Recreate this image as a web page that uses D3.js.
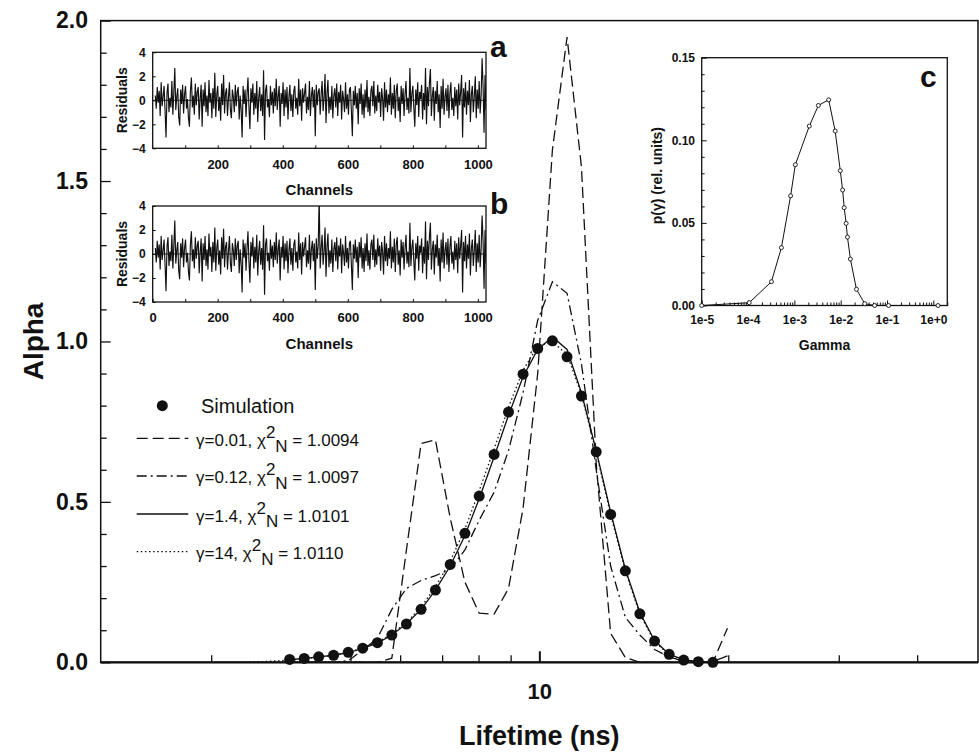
<!DOCTYPE html>
<html>
<head>
<meta charset="utf-8">
<script src="https://cdn.jsdelivr.net/npm/d3@7"></script>
<style>
  html, body { margin: 0; padding: 0; background: #fff; }
  svg { display: block; font-family: "Liberation Sans", Arial, Helvetica, sans-serif; }
</style>
</head>
<body>
<svg id="chart" width="979" height="752"></svg>
<script>
// ---------------- main panel: lifetime distributions ----------------
const lifetimeGrid = [3.06, 3.23, 3.41, 3.59, 3.79, 4.00, 4.22, 4.45, 4.70, 4.96,
  5.23, 5.52, 5.82, 6.14, 6.48, 6.83, 7.21, 7.61, 8.02, 8.47,
  8.93, 9.42, 9.94, 10.49, 11.07, 11.67, 12.32, 12.99, 13.71, 14.46,
  15.26, 16.10, 16.98, 17.92, 18.90, 19.94];

const alphaSimulation = [null, null, null, null, null,
  0.009, 0.012, 0.017, 0.022, 0.031, 0.044, 0.061, 0.085, 0.119, 0.165,
  0.225, 0.305, 0.402, 0.518, 0.648, 0.780, 0.898, 0.978, 1.002, 0.952,
  0.830, 0.656, 0.461, 0.285, 0.151, 0.066, 0.025, 0.007, 0.002, 0.000, null];

const alphaGamma001 = [null, null, null, null, null,
  0, 0, 0, 0, 0, 0, 0, 0.013, 0.35, 0.682,
  0.693, 0.45, 0.25, 0.153, 0.150, 0.230, 0.48, 0.90, 1.596, 1.949,
  1.544, 0.62, 0.09, 0.015, 0, 0, 0, 0, 0, 0, 0.106];

const alphaGamma012 = [null, null, null, null, null,
  0, 0, 0, 0, 0.005, 0.038, 0.075, 0.165, 0.23, 0.255,
  0.27, 0.29, 0.35, 0.443, 0.53, 0.66, 0.84, 1.066, 1.186, 1.15,
  0.93, 0.60, 0.30, 0.14, 0.085, 0.04, 0.017, 0.003, 0, 0, 0];

const alphaGamma14 = [null, null, null, null, null,
  0.008, 0.012, 0.017, 0.022, 0.030, 0.043, 0.060, 0.085, 0.120, 0.165,
  0.225, 0.300, 0.395, 0.510, 0.640, 0.770, 0.890, 0.975, 1.014, 0.975,
  0.840, 0.660, 0.468, 0.290, 0.155, 0.068, 0.025, 0.008, 0.002, 0.002, 0.020];

const alphaGamma140 = [0, 0, 0, 0.002, 0.004,
  0.007, 0.011, 0.016, 0.022, 0.031, 0.045, 0.063, 0.088, 0.124, 0.172,
  0.235, 0.315, 0.415, 0.535, 0.665, 0.795, 0.910, 0.985, 0.998, 0.960,
  0.835, 0.655, 0.460, 0.285, 0.150, 0.065, 0.023, 0.006, 0.000, 0.000, null];

const legendGammas = ["0.01", "0.12", "1.4", "14"];
const legendChi2 = ["1.0094", "1.0097", "1.0101", "1.0110"];

const alphaTicks = [0, 0.5, 1.0, 1.5, 2.0];
const lifetimeTicks = [3, 4, 5, 6, 7, 8, 9, 10, 20, 30, 40];
const lifetimeLabels = [10];

// ---------------- insets a / b: fit residuals (every 3rd channel) ----------------
const residualsA = [
  0.4, -0.7, 1.1, -0.2, 0.8, -1.3, 1.5, -0.5, 0.3, 1.2, -0.9, -3.1, 0.6, 1.4, -1.0, 0.2, -0.6, 1.6, -1.2, 0.7,
  2.7, -0.8, 0.3, 1.0, -1.4, -2.1, 0.9, -0.3, 1.3, -1.1, 0.5, 1.2, -0.7, 0.1, -1.5, -2.2, 0.8, 1.9, -0.6, 0.4,
  -1.2, 1.4, -0.4, 0.7, 1.1, -1.6, 0.2, 1.3, -2.2, 0.9, -0.5, 1.5, -1.0, 0.4, -1.3, 1.7, -0.2, 0.6, -1.5, 1.0,
  -0.7, 2.3, -1.4, 0.5, 1.2, -0.9, 0.3, -1.7, 1.4, -0.4, 2.1, -1.1, 0.6, 1.0, -1.3, 0.2, 1.5, -0.8, -1.5, 0.9,
  0.3, -1.0, 1.3, -0.5, 0.7, 1.1, -1.6, 0.4, -0.8, -3.1, 1.2, -0.3, 0.9, -1.4, 0.5, 1.9, -0.6, -2.4, 1.0, -0.2,
  1.4, -1.2, 0.6, -0.7, 1.6, -1.8, 0.2, 1.1, -0.9, 0.5, -1.3, 2.5, -3.3, 0.8, 1.3, -0.6, 0.1, -1.4, 1.2, -0.4,
  0.7, -1.1, 1.0, -0.5, 1.8, -0.8, 0.4, 1.2, -2.2, 0.6, -0.3, 1.5, -1.3, 0.9, -0.6, 1.1, -1.6, 0.3, 1.3, -0.9,
  0.5, -1.4, 0.8, 1.2, -0.7, 0.2, -1.2, 1.8, -0.5, 0.9, -1.7, 1.0, -0.2, 0.6, 1.4, -1.1, 0.3, -0.8, 1.6, -1.3,
  0.4, 1.1, -0.6, 0.9, -3.0, 1.3, -0.4, 0.7, 1.0, -1.2, 0.5, 1.6, -0.9, 0.2, 2.2, -1.9, 0.6, 1.7, -1.1, 0.3,
  -0.8, 1.2, -1.5, 0.4, 1.0, -0.6, 1.4, -1.3, 0.7, -0.2, 1.3, -1.6, 0.8, 0.1, -1.0, 1.5, -0.7, 0.5, -1.2, 0.9,
  1.1, -0.9, -3.0, 0.8, -0.4, 1.2, -0.7, 0.6, -2.0, 1.0, -0.3, 1.4, -1.2, 0.5, -1.5, 0.9, -0.6, 1.7, -1.0, 0.3,
  -1.3, 0.8, 1.2, -0.5, 1.6, -1.1, 0.4, -0.9, 1.3, -0.2, 0.7, -1.4, 1.0, 0.2, -1.7, 1.5, -0.6, 0.9, -1.0, 0.5,
  -0.4, 1.9, -1.2, 0.6, -0.7, 1.3, -1.5, 0.8, 1.4, -0.9, 0.3, -1.8, 1.2, -0.3, 1.0, -1.3, 0.5, 1.6, -0.8, 0.2,
  -1.1, 2.7, -1.0, 0.5, 1.2, -0.6, -2.2, 0.9, -0.4, 1.5, -1.4, 0.7, 0.1, 1.3, -1.6, 0.6, -0.8, 2.7, -2.0, 1.1,
  -0.5, 1.4, 2.6, -1.3, 0.4, 1.1, -1.7, 0.8, -0.3, 1.6, -1.0, 0.5, -2.3, 1.2, -0.7, 1.8, -1.2, 0.3, 1.0, -0.9,
  1.3, -1.5, 0.6, 1.5, -0.8, 0.2, -1.3, 1.1, -0.5, 0.9, -1.6, 1.4, -0.4, 0.7, 2.1, -3.1, 1.0, -0.6, 1.5, -1.2,
  0.8, -0.4, 1.7, -1.8, 0.5, 1.2, -1.0, 0.3, 2.0, -1.5, 0.9, -0.7, 1.6, -1.1, 0.4, 3.5, 1.2, -2.7, 2.1, -0.8
];

const residualsB = [
  0.5, -0.7, 1.1, -0.3, 0.8, -1.3, 1.5, -0.5, 0.3, 1.2, -0.9, -3.1, 0.6, 1.4, -1.0, 0.2, -0.6, 1.6, -1.2, 0.7,
  2.8, -0.8, 0.3, 1.0, -1.4, -2.1, 0.9, -0.3, 1.3, -1.1, 0.5, 1.2, -0.7, 0.1, -1.5, -2.2, 0.8, 1.9, -0.6, 0.4,
  -1.2, 1.4, -0.4, 0.7, 1.1, -1.6, 0.2, 1.3, -2.3, 0.9, -0.5, 1.5, -1.0, 0.4, -1.3, 1.7, -0.2, 0.6, -1.5, 1.0,
  -0.7, 2.2, -1.4, 0.5, 1.2, -0.9, 0.3, -1.7, 1.4, -0.4, 2.1, -1.1, 0.6, 1.0, -1.3, 0.2, 1.5, -0.8, -1.5, 0.9,
  0.3, -1.0, 1.3, -0.5, 0.7, 1.1, -1.6, 0.4, -0.8, -3.2, 1.2, -0.3, 0.9, -1.4, 0.5, 1.9, -0.6, -2.4, 1.0, -0.2,
  1.4, -1.2, 0.6, -0.7, 1.6, -1.8, 0.2, 1.1, -0.9, 0.5, -1.3, 2.4, -3.4, 0.8, 1.3, -0.6, 0.1, -1.4, 1.2, -0.4,
  0.7, -1.1, 1.0, -0.5, 1.8, -0.8, 0.4, 1.2, -2.2, 0.6, -0.3, 1.5, -1.3, 0.9, -0.6, 1.1, -1.6, 0.3, 1.3, -0.9,
  0.5, -1.4, 0.8, 1.2, -0.7, 0.2, -1.2, 1.8, -0.5, 0.9, -1.7, 1.0, -0.2, 0.6, 1.4, -1.1, 0.3, -0.8, 1.6, -1.3,
  0.4, 1.1, -0.6, 0.9, -3.0, 1.3, -0.4, 0.7, 4.8, -1.2, 0.5, 1.6, -0.9, 0.2, 2.2, -1.9, 0.6, 1.7, -1.1, 0.3,
  -0.8, 1.2, -1.5, 0.4, 1.0, -0.6, 1.4, -1.3, 0.7, -0.2, 1.3, -1.6, 0.8, 0.1, -1.0, 1.5, -0.7, 0.5, -1.2, 0.9,
  1.1, -0.9, -3.0, 0.8, -0.4, 1.2, -0.7, 0.6, -2.0, 1.0, -0.3, 1.4, -1.2, 0.5, -1.5, 0.9, -0.6, 1.7, -1.0, 0.3,
  -1.3, 0.8, 1.2, -0.5, 1.6, -1.1, 0.4, -0.9, 1.3, -0.2, 0.7, -1.4, 1.0, 0.2, -1.7, 1.5, -0.6, 0.9, -1.0, 0.5,
  -0.4, 1.9, -1.2, 0.6, -0.7, 1.3, -1.5, 0.8, 1.4, -0.9, 0.3, -1.8, 1.2, -0.3, 1.0, -1.3, 0.5, 1.6, -0.8, 0.2,
  -1.1, 2.6, -1.0, 0.5, 1.2, -0.6, -2.2, 0.9, -0.4, 1.5, -1.4, 0.7, 0.1, 1.3, -1.6, 0.6, -0.8, 2.7, -2.1, 1.1,
  -0.5, 1.4, 2.6, -1.3, 0.4, 1.1, -1.7, 0.8, -0.3, 1.6, -1.0, 0.5, -2.3, 1.2, -0.7, 1.8, -1.2, 0.3, 1.0, -0.9,
  1.3, -1.5, 0.6, 1.5, -0.8, 0.2, -1.3, 1.1, -0.5, 0.9, -1.6, 1.4, -0.4, 0.7, 2.0, -3.2, 1.0, -0.6, 1.5, -1.2,
  0.8, -0.4, 1.7, -1.8, 0.5, 1.2, -1.0, 0.3, 2.0, -1.5, 0.9, -0.7, 1.6, -1.1, 0.4, 3.2, 1.1, -2.9, 2.0, -0.8
];
const channelFirst = 8, channelStep = 3;

// ---------------- inset c: gamma distribution ----------------
const gammaValues = [1e-5, 1.06e-4, 3.2e-4, 5.25e-4, 8.3e-4, 1.05e-3, 2.1e-3, 3.3e-3, 5.5e-3,
  7.6e-3, 9.8e-3, 1.1e-2, 1.19e-2, 1.31e-2, 1.4e-2, 1.62e-2, 2.19e-2, 3.3e-2, 5.4e-2, 0.108, 1.26];
const pGamma = [0, 0.0017, 0.0144, 0.035, 0.0664, 0.0852, 0.1086, 0.1211, 0.1245,
  0.1056, 0.0816, 0.0699, 0.0592, 0.0497, 0.0414, 0.0281, 0.0098, 0.0011, 0, 0, 0];
const gammaDecades = [1e-5, 1e-4, 1e-3, 1e-2, 1e-1, 1];
const pTicks = [0, 0.05, 0.10, 0.15];

// ==================================================================
const svg = d3.select("#chart");
const BOLD = "bold";
const FONT = "Liberation Sans, Arial, sans-serif";

// ---------- main frame ----------
const plot = { left: 100.7, right: 978, top: 20.6, bottom: 662.3 };
const x = d3.scaleLog().domain([2, 50]).range([plot.left, plot.right]);
const y = d3.scaleLinear().domain([0, 2]).range([plot.bottom, plot.top]);

// y axis: minor ticks every 0.1, labelled majors every 0.5
const isAlphaMajor = d => alphaTicks.some(t => Math.abs(t - d) < 1e-9);
const yAxis = d3.axisLeft(y)
  .tickValues(d3.range(0, 21).map(k => k / 10))
  .tickSize(-6).tickSizeOuter(0).tickPadding(12.7)
  .tickFormat(d => isAlphaMajor(d) ? d3.format(".1f")(d) : "");
const gy = svg.append("g").attr("transform", `translate(${plot.left},0)`).call(yAxis);
gy.select(".domain").remove();
gy.selectAll(".tick line")
  .attr("x2", d => isAlphaMajor(d) ? 10 : 6)
  .attr("stroke", "#111").attr("stroke-width", 1.3);
gy.selectAll(".tick text").attr("font-size", 23).attr("font-weight", BOLD)
  .attr("font-family", FONT).attr("fill", "#111");

// x axis (log): minor ticks, single labelled decade
const xAxis = d3.axisBottom(x)
  .tickValues(lifetimeTicks)
  .tickSize(-7).tickSizeOuter(0).tickPadding(21)
  .tickFormat(d => lifetimeLabels.includes(d) ? String(d) : "");
const gx = svg.append("g").attr("transform", `translate(0,${plot.bottom})`).call(xAxis);
gx.select(".domain").remove();
gx.selectAll(".tick line")
  .attr("y2", d => lifetimeLabels.includes(d) ? -11 : -7)
  .attr("stroke", "#111")
  .attr("stroke-width", d => lifetimeLabels.includes(d) ? 2 : 1.3);
gx.selectAll(".tick text").attr("font-size", 22).attr("font-weight", BOLD)
  .attr("font-family", FONT).attr("fill", "#111");

svg.append("rect")
  .attr("x", plot.left).attr("y", plot.top)
  .attr("width", plot.right - plot.left).attr("height", plot.bottom - plot.top)
  .attr("fill", "none").attr("stroke", "#111").attr("stroke-width", 1.5);
svg.append("line")
  .attr("x1", plot.left).attr("x2", plot.right)
  .attr("y1", plot.bottom).attr("y2", plot.bottom)
  .attr("stroke", "#111").attr("stroke-width", 2.2);

svg.append("text")
  .attr("transform", `translate(43,${(plot.top + plot.bottom) / 2}) rotate(-90)`)
  .attr("text-anchor", "middle").attr("font-size", 28).attr("font-weight", BOLD)
  .attr("fill", "#111").text("Alpha");
svg.append("text")
  .attr("x", x(10)).attr("y", 745)
  .attr("text-anchor", "middle").attr("font-size", 27).attr("font-weight", BOLD)
  .attr("fill", "#111").text("Lifetime (ns)");

// ---------- fitted distributions ----------
const fits = [
  { values: alphaGamma001, dash: "11,5" },
  { values: alphaGamma012, dash: "10,4,2,4" },
  { values: alphaGamma14, dash: null },
  { values: alphaGamma140, dash: "1.5,2.6" }
];
const curve = d3.line()
  .defined(d => d.a != null)
  .x(d => x(d.t)).y(d => y(d.a));
fits.forEach(f => {
  const pts = lifetimeGrid.map((t, i) => ({ t, a: f.values[i] }));
  svg.append("path")
    .attr("d", curve(pts))
    .attr("fill", "none").attr("stroke", "#111")
    .attr("stroke-width", 1.3)
    .attr("stroke-dasharray", f.dash);
});

const simPts = lifetimeGrid.map((t, i) => ({ t, a: alphaSimulation[i] })).filter(d => d.a != null);
svg.append("g").selectAll("circle").data(simPts).join("circle")
  .attr("cx", d => x(d.t)).attr("cy", d => y(d.a)).attr("r", 5.5)
  .attr("fill", "#111");

// ---------- legend ----------
const lg = svg.append("g").attr("fill", "#111");
lg.append("circle").attr("cx", 162.3).attr("cy", 405.7).attr("r", 5.5);
lg.append("text").attr("x", 201).attr("y", 412.7).attr("font-size", 20).text("Simulation");
const rowBase = [446, 483.3, 521.7, 559.3];
const rowLine = [438.3, 476, 514, 551.7];
legendGammas.forEach((g, i) => {
  lg.append("line")
    .attr("x1", 136.7).attr("x2", 188.3)
    .attr("y1", rowLine[i]).attr("y2", rowLine[i])
    .attr("stroke", "#111").attr("stroke-width", 1.3)
    .attr("stroke-dasharray", fits[i].dash);
  const t = lg.append("text").attr("x", 196).attr("y", rowBase[i]).attr("font-size", 17);
  t.append("tspan").text(`γ=${g}, χ`);
  t.append("tspan").attr("dy", -8).text("2");
  t.append("tspan").attr("dy", 13.5).text("N");
  t.append("tspan").attr("dy", -5.5).text(` = ${legendChi2[i]}`);
});

// ---------- residual insets ----------
function residualInset(cfg) {
  const L = 152.7, R = 486;
  const xr = d3.scaleLinear().domain([0, 1025]).range([L, R]);
  const yr = d3.scaleLinear().domain([-4, 4]).range([cfg.bottom, cfg.top]);
  const g = svg.append("g");
  const clipId = "clip-" + cfg.tag;
  g.append("clipPath").attr("id", clipId).append("rect")
    .attr("x", L).attr("y", cfg.top).attr("width", R - L).attr("height", cfg.bottom - cfg.top);
  g.append("rect").attr("x", L).attr("y", cfg.top)
    .attr("width", R - L).attr("height", cfg.bottom - cfg.top).attr("fill", "#fff");

  g.append("line").attr("x1", L).attr("x2", R)
    .attr("y1", yr(0)).attr("y2", yr(0)).attr("stroke", "#111").attr("stroke-width", 0.9);
  const pts = cfg.values.map((v, i) => ({ c: channelFirst + i * channelStep, v }));
  g.append("path")
    .attr("clip-path", `url(#${clipId})`)
    .attr("d", d3.line().x(d => xr(d.c)).y(d => yr(d.v))(pts))
    .attr("fill", "none").attr("stroke", "#111").attr("stroke-width", 1.15);

  const ax = g.append("g").attr("transform", `translate(0,${cfg.bottom})`)
    .call(d3.axisBottom(xr).tickValues(d3.range(100, 1001, 100).concat(cfg.showZero ? [0] : []))
      .tickSize(-3).tickSizeOuter(0).tickPadding(11)
      .tickFormat(d => (d % 200 === 0) ? String(d) : ""));
  ax.select(".domain").remove();
  ax.selectAll(".tick line").attr("stroke", "#111");
  ax.selectAll(".tick text").attr("font-size", 13).attr("font-weight", BOLD)
    .attr("font-family", FONT).attr("fill", "#111");

  const ay = g.append("g").attr("transform", `translate(${L},0)`)
    .call(d3.axisLeft(yr).tickValues([-4, -2, 0, 2, 4]).tickSize(-3).tickSizeOuter(0).tickPadding(7));
  ay.select(".domain").remove();
  ay.selectAll(".tick line").attr("stroke", "#111");
  ay.selectAll(".tick text").attr("font-size", 12).attr("font-weight", BOLD)
    .attr("font-family", FONT).attr("fill", "#111");

  g.append("rect").attr("x", L).attr("y", cfg.top)
    .attr("width", R - L).attr("height", cfg.bottom - cfg.top)
    .attr("fill", "none").attr("stroke", "#111").attr("stroke-width", 1.3);

  g.append("text").attr("x", (L + R) / 2).attr("y", cfg.bottom + 47)
    .attr("text-anchor", "middle").attr("font-size", 15).attr("font-weight", BOLD)
    .attr("fill", "#111").text("Channels");
  g.append("text")
    .attr("transform", `translate(126.5,${(cfg.top + cfg.bottom) / 2}) rotate(-90)`)
    .attr("text-anchor", "middle").attr("font-size", 14).attr("font-weight", BOLD)
    .attr("fill", "#111").text("Residuals");
  g.append("text").attr("x", 490).attr("y", cfg.tagY)
    .attr("font-size", 30).attr("font-weight", BOLD).attr("fill", "#111").text(cfg.tag);
}
residualInset({ tag: "a", top: 52.3, bottom: 148.3, values: residualsA, showZero: false, tagY: 56.5 });
residualInset({ tag: "b", top: 206, bottom: 302, values: residualsB, showZero: true, tagY: 214 });

// ---------- gamma inset ----------
(function () {
  const L = 701.7, R = 947.3, T = 57.7, B = 305.5;
  const xc = d3.scaleLog().domain([1e-5, 2]).range([L, R]);
  const yc = d3.scaleLinear().domain([0, 0.15]).range([B, T]);
  const g = svg.append("g");
  const isDecade = d => gammaDecades.some(v => Math.abs(v - d) / v < 1e-6);
  const isPMajor = d => pTicks.some(t => Math.abs(t - d) < 1e-9);

  const minor = [];
  gammaDecades.forEach(d => { for (let k = 1; k <= 9; k++) { const v = d * k; if (v <= 2) minor.push(v); } });
  const axc = g.append("g").attr("transform", `translate(0,${B})`)
    .call(d3.axisBottom(xc).tickValues(minor).tickSize(-3).tickSizeOuter(0).tickPadding(10)
      .tickFormat(d => {
        if (!isDecade(d)) return "";
        const e = Math.round(Math.log10(d));
        return "1e" + (e >= 0 ? "+" + e : e);
      }));
  axc.select(".domain").remove();
  axc.selectAll(".tick line").attr("stroke", "#111").attr("y2", d => isDecade(d) ? -5 : -3);
  axc.selectAll(".tick text").attr("font-size", 12).attr("font-weight", BOLD)
    .attr("font-family", FONT).attr("fill", "#111");

  const ayc = g.append("g").attr("transform", `translate(${L},0)`)
    .call(d3.axisLeft(yc).tickValues(d3.range(0, 16).map(k => k / 100)).tickSize(-3).tickSizeOuter(0).tickPadding(6.7)
      .tickFormat(d => isPMajor(d) ? d3.format(".2f")(d) : ""));
  ayc.select(".domain").remove();
  ayc.selectAll(".tick line").attr("stroke", "#111").attr("x2", d => isPMajor(d) ? 5 : 3);
  ayc.selectAll(".tick text").attr("font-size", 12).attr("font-weight", BOLD)
    .attr("font-family", FONT).attr("fill", "#111");

  g.append("rect").attr("x", L).attr("y", T).attr("width", R - L).attr("height", B - T)
    .attr("fill", "none").attr("stroke", "#111").attr("stroke-width", 1.3);

  const pts = gammaValues.map((gm, i) => ({ gm, p: pGamma[i] }));
  g.append("path").attr("d", d3.line().x(d => xc(d.gm)).y(d => yc(d.p))(pts))
    .attr("fill", "none").attr("stroke", "#111").attr("stroke-width", 1);
  g.selectAll("circle.pt").data(pts).join("circle").attr("class", "pt")
    .attr("cx", d => xc(d.gm)).attr("cy", d => yc(d.p)).attr("r", 2)
    .attr("fill", "#fff").attr("stroke", "#111").attr("stroke-width", 0.9);

  g.append("text").attr("x", (L + R) / 2).attr("y", 350)
    .attr("text-anchor", "middle").attr("font-size", 14).attr("font-weight", BOLD)
    .attr("fill", "#111").text("Gamma");
  g.append("text").attr("transform", `translate(662,${(T + B) / 2 - 6}) rotate(-90)`)
    .attr("text-anchor", "middle").attr("font-size", 14).attr("font-weight", BOLD)
    .attr("fill", "#111").text("p(γ) (rel. units)");
  g.append("text").attr("x", 920).attr("y", 87)
    .attr("font-size", 30).attr("font-weight", BOLD).attr("fill", "#111").text("c");
})();
</script>
</body>
</html>
